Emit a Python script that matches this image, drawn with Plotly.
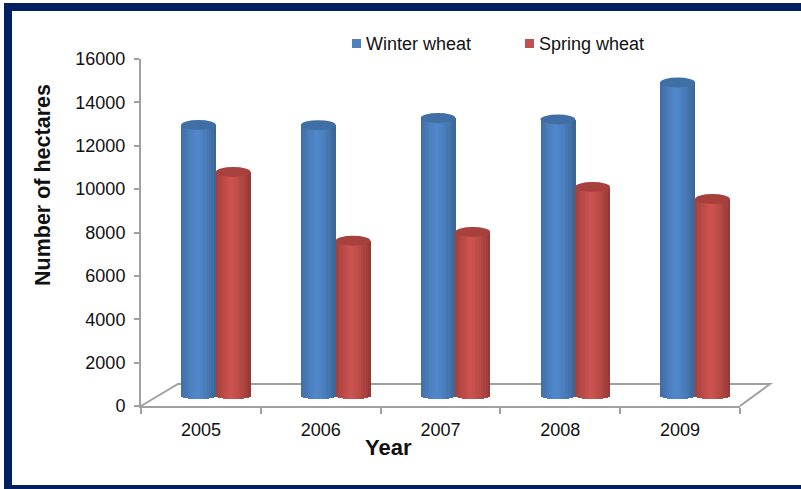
import plotly.graph_objects as go

years = ["2005", "2006", "2007", "2008", "2009"]
winter_wheat = [12960, 12950, 13280, 13210, 14920]
spring_wheat = [10790, 7620, 8020, 10100, 9540]
y_ticks = list(range(0, 16001, 2000))

W, H = 801, 489
L, R, T, B = 141, 740, 59, 406


def px(x):
    return (x - L) / (R - L)


def py(y):
    return (B - y) / (B - T)


STRIPS = 15
BAR_W = 0.29
GROUP_SHIFT = 0.125
FLOOR = 510
DROP = 210
CAP = 230


def mix(a, b, t):
    return "rgb(%d,%d,%d)" % tuple(round(a[i] + (b[i] - a[i]) * t) for i in range(3))


series = [
    ("Winter wheat", winter_wheat, -BAR_W, (60, 102, 150), (82, 137, 206), "#3f6fa5", "#4f81bd", 352, 366),
    ("Spring wheat", spring_wheat, 0.0, (150, 58, 55), (205, 84, 80), "#a8403d", "#c0504d", 525, 539),
]

fig = go.Figure()
shapes = []
annotations = []
for name, values, start, edge, mid, cap, key, key_x, text_x in series:
    for s in range(STRIPS):
        u = (s + 0.5) / STRIPS * 2 - 1
        lift = (1 - u * u) ** 0.5
        base = FLOOR - DROP * lift
        tone = max(1 - abs(u + 0.1), 0) ** 0.7
        fig.add_trace(go.Bar(
            x=years,
            y=[v - base for v in values],
            base=base,
            name=name,
            showlegend=False,
            width=BAR_W / STRIPS + 0.002,
            offset=GROUP_SHIFT + start + BAR_W * s / STRIPS,
            marker=dict(color=mix(edge, mid, tone), line_width=0),
            hoverinfo="skip",
        ))
    for i, v in enumerate(values):
        x0 = i + GROUP_SHIFT + start
        shapes.append(dict(type="circle", xref="x", yref="y", layer="above",
                           x0=x0, x1=x0 + BAR_W, y0=v - CAP, y1=v + CAP,
                           fillcolor=cap, line_width=0))
    shapes.append(dict(type="rect", xref="paper", yref="paper", layer="above",
                       x0=px(key_x), x1=px(key_x + 9), y0=py(48), y1=py(39),
                       fillcolor=key, line_width=0))
    annotations.append(dict(text=name, xref="paper", yref="paper", showarrow=False,
                            x=px(text_x), y=py(44), xanchor="left", yanchor="middle",
                            xshift=-2, font=dict(size=18)))

annotations.append(dict(text="<b>Year</b>", xref="paper", yref="paper", showarrow=False,
                        x=px(388), y=py(448), xanchor="center", yanchor="middle",
                        font=dict(size=22)))
annotations.append(dict(text="<b>Number of hectares</b>", xref="paper", yref="paper",
                        showarrow=False, textangle=-90, x=px(43), y=py(185),
                        xanchor="center", yanchor="middle", font=dict(size=21.5)))

# floor of the 3-D box and the page frame
grey = "#a0a0a0"
floor = f"M {px(L)} {py(B)} L {px(178)} {py(384)} L {px(770)} {py(384)} L {px(R)} {py(B)}"
shapes.insert(0, dict(type="path", xref="paper", yref="paper", layer="below",
                      path=floor, line=dict(color=grey, width=2)))
navy = "#002060"
frame = [(4, 3, W, 11), (4, 3, 12, H), (4, 485, W, H)]
for x0, y0, x1, y1 in frame:
    shapes.append(dict(type="rect", xref="paper", yref="paper", layer="above",
                       x0=px(x0), x1=px(x1), y0=py(y0), y1=py(y1),
                       fillcolor=navy, line_width=0))

fig.update_layout(
    width=W, height=H,
    autosize=False,
    margin=dict(l=L, r=W - R, t=T, b=H - B, autoexpand=False),
    paper_bgcolor="white", plot_bgcolor="rgba(0,0,0,0)",
    barmode="overlay",
    bargap=0,
    font=dict(family="Liberation Sans", size=18, color="#111111"),
    showlegend=False,
    shapes=shapes,
    annotations=annotations,
    xaxis=dict(type="category", categoryorder="array", categoryarray=years,
               range=[-0.5, 4.5], tickson="boundaries", ticks="outside", ticklen=6,
               tickcolor=grey, tickwidth=2, showline=True, linecolor=grey, linewidth=2,
               showgrid=False, zeroline=False, tickfont=dict(size=18), ticklabelstandoff=6),
    yaxis=dict(range=[0, 16000], tickvals=y_ticks, tickformat="d", ticks="outside", ticklen=5,
               tickcolor=grey, tickwidth=2, showline=True, linecolor=grey, linewidth=2,
               showgrid=False, zeroline=False, tickfont=dict(size=18), ticklabelstandoff=5),
)

fig.write_html("out.html", config=dict(displayModeBar=False),
               post_script="document.body.style.margin='0';document.body.style.overflow='hidden';")
